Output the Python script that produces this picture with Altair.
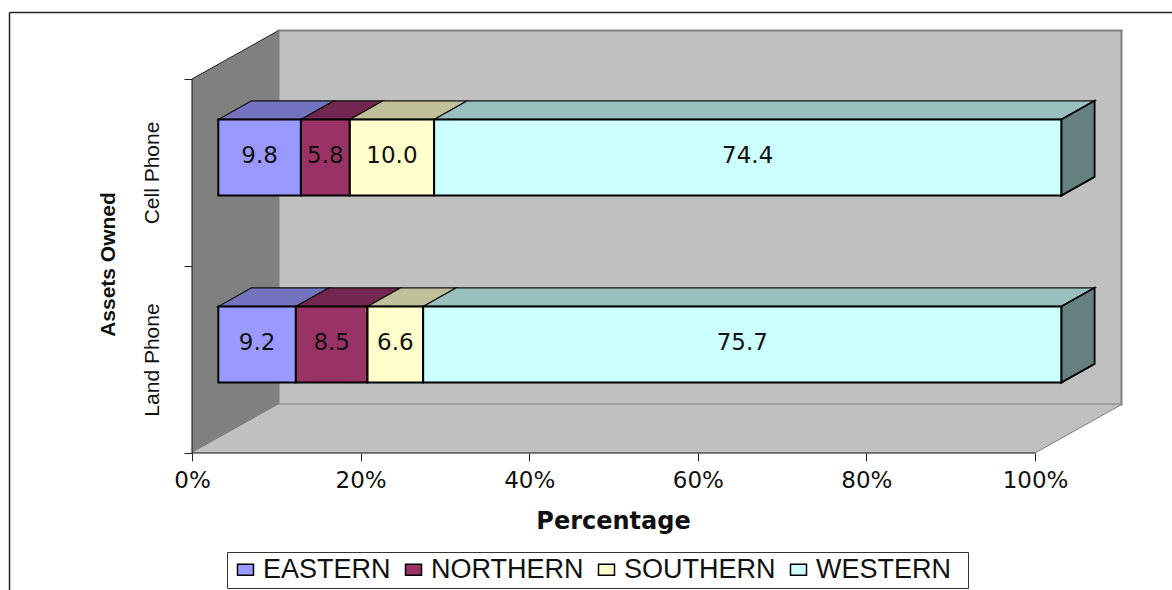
import altair as alt
import pandas as pd

# Share of each asset by region, stacked to 100%
categories = ["Land Phone", "Cell Phone"]
series = ["EASTERN", "NORTHERN", "SOUTHERN", "WESTERN"]
land_phone = [9.2, 8.5, 6.6, 75.7]
cell_phone = [9.8, 5.8, 10.0, 74.4]
front_colors = ["#9999FF", "#993366", "#FFFFCC", "#CCFFFF"]
top_colors = ["#7373BF", "#732650", "#BFBF99", "#99BFBF"]
side_color = "#668080"

# Oblique projection used for the box and the bars, in axis units
WALL_DX, WALL_DY = 10.26, 0.259
BAR_OFFSET = 3.12
BAR_DX, BAR_DY = 3.95, 0.1
BAR_CENTER, BAR_THICK = 0.58, 0.407

WIDTH, HEIGHT = 929, 423
x_scale = alt.Scale(domain=[0, 110.2], nice=False, zero=False)
y_scale = alt.Scale(domain=[0, 2.262], nice=False, zero=False)

fronts, tops, sides = [], [], []
for i, (cat, vals) in enumerate(zip(categories, [land_phone, cell_phone])):
    lo = i + BAR_CENTER - BAR_THICK / 2
    hi = i + BAR_CENTER + BAR_THICK / 2
    left = BAR_OFFSET
    for name, val, top in zip(series, vals, top_colors):
        right = left + val
        fronts.append(dict(cat=cat, series=name, value=val, x=left, x2=right,
                           y=lo, y2=hi, mid=(left + right) / 2, ymid=(lo + hi) / 2))
        seg = f"{cat}-{name}"
        tops.append(dict(seg=seg, shade=top, y=hi, x=left, x2=right))
        tops.append(dict(seg=seg, shade=top, y=hi + BAR_DY, x=left + BAR_DX, x2=right + BAR_DX))
        left = right
    sides.append(dict(seg=cat, x=left, y=lo, y2=hi))
    sides.append(dict(seg=cat, x=left + BAR_DX, y=lo + BAR_DY, y2=hi + BAR_DY))

fronts, tops, sides = map(pd.DataFrame, (fronts, tops, sides))

# Back wall, floor and side wall of the box
back_df = pd.DataFrame([dict(x=WALL_DX, x2=100 + WALL_DX, y=WALL_DY, y2=2 + WALL_DY)])
floor_df = pd.DataFrame([dict(y=0, x=0, x2=100), dict(y=WALL_DY, x=WALL_DX, x2=100 + WALL_DX)])
wall_df = pd.DataFrame([dict(x=0, y=0, y2=2), dict(x=WALL_DX, y=WALL_DY, y2=2 + WALL_DY)])

label_expr = (f"datum.value == 0.5 ? '{categories[0]}' : "
              f"datum.value == 1.5 ? '{categories[1]}' : ''")

x_axis = alt.Axis(
    values=[0, 20, 40, 60, 80, 100], labelExpr="datum.value + '%'", domain=False, grid=False,
    tickColor="#222222", tickSize=8, labelFont="DejaVu Sans", labelFontSize=23, labelColor="#111111",
    labelPadding=8, labelFlush=False, labelOverlap=False,
    title="Percentage", titleFont="DejaVu Sans", titleFontSize=24, titleFontWeight="bold",
    titleColor="#111111", titleX=421, titleY=75, titleAlign="center", titleBaseline="alphabetic",
)
y_axis = alt.Axis(
    values=[0, 0.5, 1, 1.5, 2], labelExpr=label_expr, domain=False, grid=False,
    tickColor="#222222", tickSize=8,
    tickOpacity={"condition": {"test": "datum.value % 1 == 0", "value": 1}, "value": 0},
    labelFont="Liberation Sans", labelFontSize=21, labelColor="#111111", labelAngle=270,
    labelAlign="center", labelBaseline="bottom", labelPadding=22, labelOverlap=False,
    title="Assets Owned", titleFont="Liberation Sans", titleFontSize=21, titleFontWeight="bold",
    titleColor="#111111", titleAngle=270, titleX=-78, titleY=234, titleAlign="center",
    titleBaseline="alphabetic",
)

back = alt.Chart(back_df).mark_rect(fill="#C0C0C0", stroke="#808080", strokeWidth=2).encode(
    x=alt.X("x:Q", scale=x_scale, axis=x_axis),
    x2="x2:Q",
    y=alt.Y("y:Q", scale=y_scale, axis=y_axis),
    y2="y2:Q",
)
floor = alt.Chart(floor_df).mark_area(orient="horizontal", fill="#C0C0C0").encode(
    x=alt.X("x:Q", stack=None), x2="x2:Q", y="y:Q",
)
wall = alt.Chart(wall_df).mark_area(orient="vertical", fill="#808080").encode(
    x="x:Q", y=alt.Y("y:Q", stack=None), y2="y2:Q",
)

# Outline of the box: axis lines and the receding edges
edges_df = pd.DataFrame([
    dict(x=0, x2=100, y=0, y2=0, c="#111111"),
    dict(x=0, x2=0, y=0, y2=2, c="#111111"),
    dict(x=0, x2=WALL_DX, y=2, y2=2 + WALL_DY, c="#222222"),
    dict(x=100, x2=100 + WALL_DX, y=0, y2=WALL_DY, c="#808080"),
])
edges = alt.Chart(edges_df).mark_rule(strokeWidth=1).encode(
    x="x:Q", x2="x2:Q", y="y:Q", y2="y2:Q",
    stroke=alt.Stroke("c:N", scale=None, legend=None),
)

top_faces = alt.Chart(tops).mark_area(orient="horizontal", stroke="#111111", strokeWidth=1.3).encode(
    x=alt.X("x:Q", stack=None), x2="x2:Q", y="y:Q",
    detail="seg:N",
    fill=alt.Fill("shade:N", scale=None, legend=None),
)
side_faces = alt.Chart(sides).mark_area(
    orient="vertical", fill=side_color, stroke="black", strokeWidth=1.8
).encode(
    x="x:Q", y=alt.Y("y:Q", stack=None), y2="y2:Q", detail="seg:N",
)
front_faces = alt.Chart(fronts).mark_rect(stroke="black", strokeWidth=2).encode(
    x="x:Q", x2="x2:Q", y="y:Q", y2="y2:Q",
    color=alt.Color(
        "series:N",
        scale=alt.Scale(domain=series, range=front_colors),
        legend=alt.Legend(
            orient="none", legendX=40, legendY=526, direction="horizontal", columns=4, title=None,
            symbolType="M-1,-0.68H1V0.68H-1Z", symbolSize=256, symbolStrokeColor="black",
            symbolStrokeWidth=1.5, symbolOpacity=1, labelFont="Liberation Sans", labelFontSize=27,
            labelColor="#111111", labelOffset=4, columnPadding=9, padding=0, labelLimit=400,
        ),
    ),
)
bar_labels = alt.Chart(fronts).mark_text(
    font="DejaVu Sans", fontSize=23, color="#111111", baseline="middle", align="center", dy=-2
).encode(
    x="mid:Q", y="ymid:Q", text=alt.Text("value:Q", format=".1f"),
)

# Outer chart frame, open towards the bottom and right of the page
frame_left = alt.Chart(back_df).mark_rule(color="#222222", strokeWidth=1.5).encode(
    x=alt.value(-182.5), y=alt.value(-17.5), y2=alt.value(565)
)
frame_top = alt.Chart(back_df).mark_rule(color="#222222", strokeWidth=1.5).encode(
    x=alt.value(-182.5), x2=alt.value(985), y=alt.value(-17.5)
)
# Box behind the legend entries
legend_box = alt.Chart(back_df).mark_rect(fill="white", stroke="#333333", strokeWidth=1).encode(
    x=alt.value(35.5), x2=alt.value(776.5), y=alt.value(522.5), y2=alt.value(558.5)
)

chart = alt.layer(
    back, floor, wall, edges, top_faces, side_faces, front_faces, bar_labels,
    frame_left, frame_top, legend_box,
).properties(
    width=WIDTH, height=HEIGHT, background="white",
    padding={"left": 192, "top": 30, "right": 51, "bottom": 137},
    autosize=alt.AutoSizeParams(type="none"),
).configure_view(strokeWidth=0)

chart.save("out.html", embed_options={"renderer": "svg", "actions": False})
